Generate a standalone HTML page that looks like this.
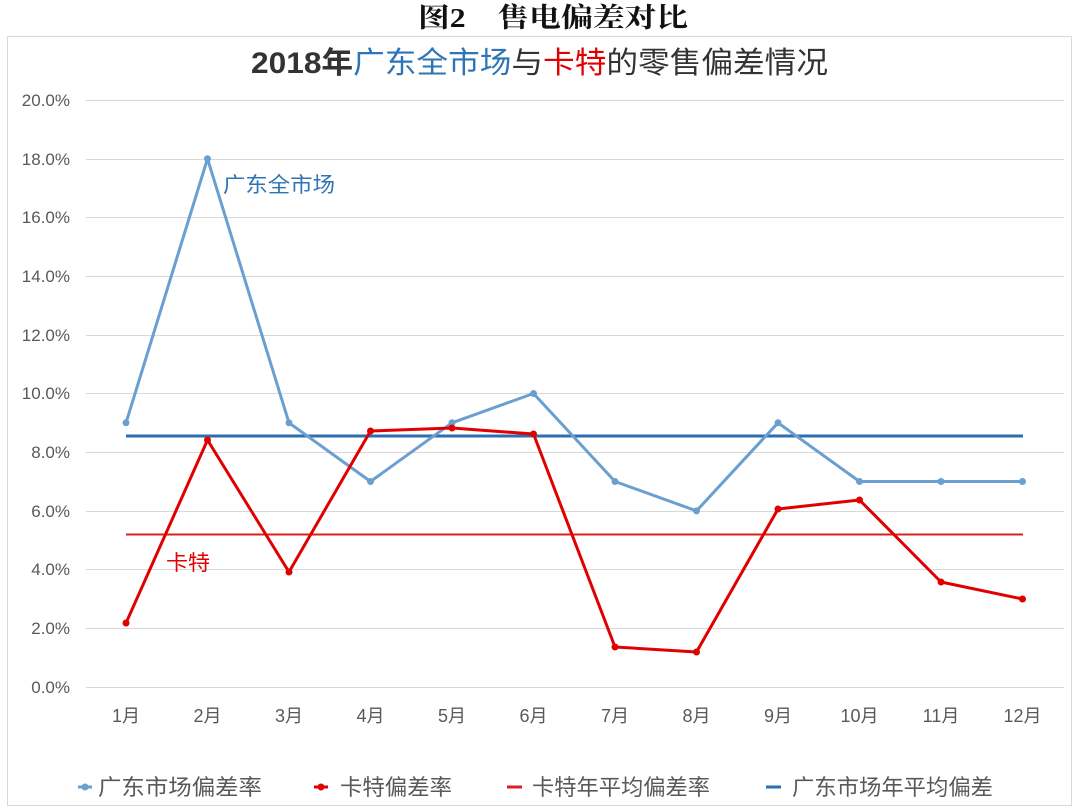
<!DOCTYPE html>
<html><head><meta charset="utf-8"><style>
html,body{margin:0;padding:0;background:#fff;}
</style></head><body>
<svg width="1080" height="810" xmlns="http://www.w3.org/2000/svg" style="display:block">
<rect width="1080" height="810" fill="#fff"/>
<text x="418" y="27" textLength="270" lengthAdjust="spacingAndGlyphs" font-family="'Liberation Serif','Noto Serif CJK SC',serif" font-size="27" font-weight="bold" fill="#111">图2　售电偏差对比</text>
<rect x="7.5" y="36.5" width="1064" height="769" fill="none" stroke="#d9d9d9" stroke-width="1"/>
<text x="251" y="73" textLength="577" lengthAdjust="spacingAndGlyphs" font-family="'Liberation Sans','Noto Sans CJK SC',sans-serif" font-size="30" font-weight="bold" fill="#333">2018年<tspan fill="#2e75b6" font-weight="normal">广东全市场</tspan><tspan font-weight="normal">与</tspan><tspan fill="#e00000" font-weight="normal">卡特</tspan><tspan font-weight="normal">的零售偏差情况</tspan></text>
<g stroke="#d9d9d9" stroke-width="1">
<line x1="86" x2="1064" y1="100.5" y2="100.5"/><line x1="86" x2="1064" y1="159.5" y2="159.5"/>
<line x1="86" x2="1064" y1="217.5" y2="217.5"/><line x1="86" x2="1064" y1="276.5" y2="276.5"/>
<line x1="86" x2="1064" y1="335.5" y2="335.5"/><line x1="86" x2="1064" y1="393.5" y2="393.5"/>
<line x1="86" x2="1064" y1="452.5" y2="452.5"/><line x1="86" x2="1064" y1="511.5" y2="511.5"/>
<line x1="86" x2="1064" y1="569.5" y2="569.5"/><line x1="86" x2="1064" y1="628.5" y2="628.5"/>
<line x1="86" x2="1064" y1="687.5" y2="687.5"/>
</g>
<g font-family="'Liberation Sans',sans-serif" font-size="17" fill="#595959" text-anchor="end">
<text x="70" y="106">20.0%</text><text x="70" y="165">18.0%</text><text x="70" y="223">16.0%</text>
<text x="70" y="282">14.0%</text><text x="70" y="341">12.0%</text><text x="70" y="399">10.0%</text>
<text x="70" y="458">8.0%</text><text x="70" y="517">6.0%</text><text x="70" y="575">4.0%</text>
<text x="70" y="634">2.0%</text><text x="70" y="693">0.0%</text>
</g>
<g font-family="'Liberation Sans','Noto Sans CJK SC',sans-serif" font-size="18" fill="#595959" text-anchor="middle">
<text x="126" y="722">1月</text><text x="207.5" y="722">2月</text><text x="289" y="722">3月</text>
<text x="370.5" y="722">4月</text><text x="452" y="722">5月</text><text x="533.5" y="722">6月</text>
<text x="615" y="722">7月</text><text x="696.5" y="722">8月</text><text x="778" y="722">9月</text>
<text x="859.5" y="722">10月</text><text x="941" y="722">11月</text><text x="1022.5" y="722">12月</text>
</g>
<line x1="126" x2="1023" y1="436" y2="436" stroke="#2e6db0" stroke-width="3"/>
<line x1="126" x2="1023" y1="534.5" y2="534.5" stroke="#d92020" stroke-width="2"/>
<polyline fill="none" stroke="#6a9fd0" stroke-width="3" stroke-linejoin="round" points="126,422.8 207.5,158.7 289,422.8 370.5,481.5 452,422.8 533.5,393.5 615,481.5 696.5,510.9 778,422.8 859.5,481.5 941,481.5 1022.5,481.5"/>
<g fill="#6a9fd0"><circle cx="126" cy="422.8" r="3.5"/><circle cx="207.5" cy="158.7" r="3.5"/><circle cx="289" cy="422.8" r="3.5"/><circle cx="370.5" cy="481.5" r="3.5"/><circle cx="452" cy="422.8" r="3.5"/><circle cx="533.5" cy="393.5" r="3.5"/><circle cx="615" cy="481.5" r="3.5"/><circle cx="696.5" cy="510.9" r="3.5"/><circle cx="778" cy="422.8" r="3.5"/><circle cx="859.5" cy="481.5" r="3.5"/><circle cx="941" cy="481.5" r="3.5"/><circle cx="1022.5" cy="481.5" r="3.5"/></g>
<polyline fill="none" stroke="#e00000" stroke-width="3" stroke-linejoin="round" points="126,623 207.5,440 289,572 370.5,431 452,428 533.5,434 615,647 696.5,652 778,509 859.5,500 941,582 1022.5,599"/>
<g fill="#e00000"><circle cx="126" cy="623" r="3.5"/><circle cx="207.5" cy="440" r="3.5"/><circle cx="289" cy="572" r="3.5"/><circle cx="370.5" cy="431" r="3.5"/><circle cx="452" cy="428" r="3.5"/><circle cx="533.5" cy="434" r="3.5"/><circle cx="615" cy="647" r="3.5"/><circle cx="696.5" cy="652" r="3.5"/><circle cx="778" cy="509" r="3.5"/><circle cx="859.5" cy="500" r="3.5"/><circle cx="941" cy="582" r="3.5"/><circle cx="1022.5" cy="599" r="3.5"/></g>
<text x="223" y="192" textLength="112" lengthAdjust="spacingAndGlyphs" font-family="'Liberation Sans','Noto Sans CJK SC',sans-serif" font-size="21" fill="#2e75b6">广东全市场</text>
<text x="166" y="570" textLength="44" lengthAdjust="spacingAndGlyphs" font-family="'Liberation Sans','Noto Sans CJK SC',sans-serif" font-size="21" fill="#e00000">卡特</text>
<g font-family="'Liberation Sans','Noto Sans CJK SC',sans-serif" font-size="22" fill="#595959">
<line x1="78" x2="92" y1="787" y2="787" stroke="#6a9fd0" stroke-width="3"/><circle cx="85" cy="787" r="3.5" fill="#6a9fd0"/>
<text x="98" y="795" textLength="164" lengthAdjust="spacingAndGlyphs">广东市场偏差率</text>
<line x1="314" x2="328" y1="787" y2="787" stroke="#e00000" stroke-width="3"/><circle cx="321" cy="787" r="3.5" fill="#e00000"/>
<text x="340" y="795" textLength="112" lengthAdjust="spacingAndGlyphs">卡特偏差率</text>
<line x1="507" x2="522" y1="787" y2="787" stroke="#d92020" stroke-width="3"/>
<text x="532" y="795" textLength="178" lengthAdjust="spacingAndGlyphs">卡特年平均偏差率</text>
<line x1="766" x2="781" y1="787" y2="787" stroke="#2e6db0" stroke-width="3"/>
<text x="792" y="795" textLength="201" lengthAdjust="spacingAndGlyphs">广东市场年平均偏差</text>
</g>
</svg>
</body></html>
